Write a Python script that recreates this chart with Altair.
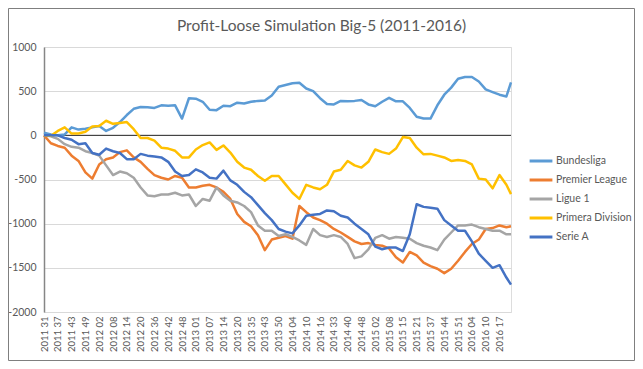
import altair as alt
import pandas as pd

# sampled week positions (index of the weekly observation)
week_index = list(range(0, 202, 3)) + [203]

tick_labels = ["2011 31", "2011 37", "2011 43", "2011 49", "2012 02", "2012 08", "2012 14",
               "2012 20", "2012 36", "2012 42", "2012 48", "2013 01", "2013 07", "2013 14",
               "2013 20", "2013 35", "2013 43", "2013 50", "2014 04", "2014 10", "2014 16",
               "2014 33", "2014 40", "2014 48", "2015 02", "2015 08", "2015 15", "2015 21",
               "2015 37", "2015 44", "2015 51", "2016 04", "2016 10", "2016 17"]

bundesliga = [30, 10, 0, 10, 90, 65, 75, 90, 105, 50, 85, 150, 230, 300, 320, 318, 310, 340,
              335, 340, 190, 420, 415, 380, 290, 285, 335, 330, 370, 360, 380, 390, 395, 450, 550, 570,
              590, 595, 530, 500, 420, 355, 350, 390, 385, 390, 400, 350, 330, 380, 425, 385, 385, 310, 210,
              190, 190, 340, 460, 540, 640, 660, 660, 610, 520, 490, 460, 440, 600]

premier_league = [0, -90, -120, -140, -230, -290, -420, -490, -330, -270, -250, -190, -170, -250, -300, -380, -450, -480,
                  -500, -460, -480, -590, -590, -570, -560, -590, -640, -720, -890, -980, -1030, -1130, -1300, -1180, -1160, -1140,
                  -1170, -800, -870, -930, -960, -1000, -1060, -1100, -1150, -1200, -1230, -1220, -1240, -1250, -1280, -1380, -1440, -1320, -1360,
                  -1440, -1480, -1510, -1560, -1510, -1420, -1320, -1230, -1180, -1060, -1050, -1020, -1040, -1030]

ligue_1 = [0, -10, -40, -100, -130, -140, -180, -200, -230, -340, -450, -410, -430, -480, -590, -680, -690, -670,
           -670, -650, -680, -670, -800, -720, -740, -590, -680, -740, -760, -800, -870, -1020, -1080, -1080, -1140, -1120,
           -1150, -1190, -1240, -1060, -1130, -1150, -1130, -1150, -1230, -1390, -1370, -1290, -1160, -1130, -1170, -1150, -1160, -1170, -1220,
           -1250, -1270, -1300, -1180, -1100, -1020, -1020, -1010, -1040, -1060, -1080, -1080, -1120, -1120]

primera_division = [0, -5, 50, 90, 20, 20, 40, 100, 105, 165, 130, 140, 150, 70, -30, -30, -60, -140,
                    -150, -175, -250, -250, -160, -110, -80, -165, -115, -195, -300, -365, -390, -460, -515, -460, -460, -555,
                    -650, -720, -560, -590, -610, -560, -410, -390, -290, -340, -365, -300, -160, -190, -210, -150, -20, -30, -140,
                    -215, -210, -230, -250, -290, -280, -290, -330, -490, -500, -600, -450, -560, -665]

serie_a = [0, 0, 0, -30, -50, -100, -90, -200, -220, -150, -180, -200, -270, -270, -210, -230, -240, -250,
           -300, -410, -460, -450, -385, -420, -480, -490, -400, -510, -560, -640, -700, -790, -880, -960, -1060, -1090,
           -1110, -1020, -910, -900, -890, -850, -860, -910, -930, -1000, -1060, -1120, -1260, -1290, -1270, -1270, -1310, -1120, -780,
           -810, -820, -830, -960, -1020, -1080, -1080, -1200, -1340, -1420, -1500, -1470, -1610, -1690]

series_names = ["Bundesliga", "Premier League", "Ligue 1", "Primera Division", "Serie A"]
series_colors = ["#5B9BD5", "#ED7D31", "#A5A5A5", "#FFC000", "#4472C4"]
series_values = [bundesliga, premier_league, ligue_1, primera_division, serie_a]

rows = []
for name, vals in zip(series_names, series_values):
    for w, v in zip(week_index, vals):
        rows.append({"week": w, "value": v, "series": name})
df = pd.DataFrame(rows)

FONT = "Lato"
TXT = "#595959"

label_expr = "[" + ",".join("'" + t + "'" for t in tick_labels) + "][round(datum.value / 6)]"

x_enc = alt.X("week:Q",
              scale=alt.Scale(domain=[0, 203], nice=False, zero=False),
              axis=alt.Axis(values=list(range(0, 199, 6)), labelExpr=label_expr,
                            labelAngle=270, labelAlign="right", labelBaseline="middle",
                            grid=False, domain=False, ticks=False, labelPadding=4,
                            labelFont=FONT, labelFontSize=9.5, labelColor=TXT, title=None,
                            labelOverlap=False))
y_enc = alt.Y("value:Q",
              scale=alt.Scale(domain=[-2000, 1000], nice=False, zero=False),
              axis=alt.Axis(values=[-2000, -1500, -1000, -500, 0, 500, 1000], grid=True,
                            gridColor="#D9D9D9", gridWidth=1, domain=True, domainColor="#868686",
                            domainWidth=1.5, ticks=False, labelPadding=8,
                            labelExpr="'' + datum.value", labelFont=FONT, labelFontSize=10.5,
                            labelColor=TXT, title=None))

color_enc = alt.Color("series:N",
                      scale=alt.Scale(domain=series_names, range=series_colors),
                      legend=alt.Legend(orient="none", legendX=484, legendY=101, title=None,
                                        symbolType="stroke", symbolSize=520, symbolStrokeWidth=3,
                                        labelFont=FONT, labelFontSize=10.5, labelColor=TXT,
                                        labelOffset=2, rowPadding=0, padding=0))

zero_df = pd.DataFrame({"value": [0]})
zero_line = alt.Chart(zero_df).mark_rule(color="#262626", strokeWidth=1).encode(y="value:Q")

layers = [zero_line]
for name in series_names:
    layers.append(
        alt.Chart(df).transform_filter(alt.datum.series == name)
        .mark_line(strokeWidth=2.5, strokeJoin="round")
        .encode(x=x_enc, y=y_enc, color=color_enc)
    )

border = alt.Chart(zero_df).mark_rect(fill="white", fillOpacity=0, stroke="#7F7F7F", strokeWidth=1).encode(
    x=alt.value(-35.5), x2=alt.value(590.5), y=alt.value(-38.5), y2=alt.value(313.5))
layers.append(border)

chart = alt.layer(*layers).properties(
    width=467, height=265,
    autosize=alt.AutoSizeParams(type="none"),
    padding={"left": 36, "top": 39, "right": 124, "bottom": 49},
    title=alt.TitleParams("Profit-Loose Simulation Big-5 (2011-2016)", font=FONT, fontSize=15.5,
                          fontWeight="normal", color=TXT, anchor="middle", dx=44, offset=-26),
).configure_view(strokeWidth=0).configure(background="white")

chart.save("out.html", embed_options={"renderer": "svg", "actions": False})
